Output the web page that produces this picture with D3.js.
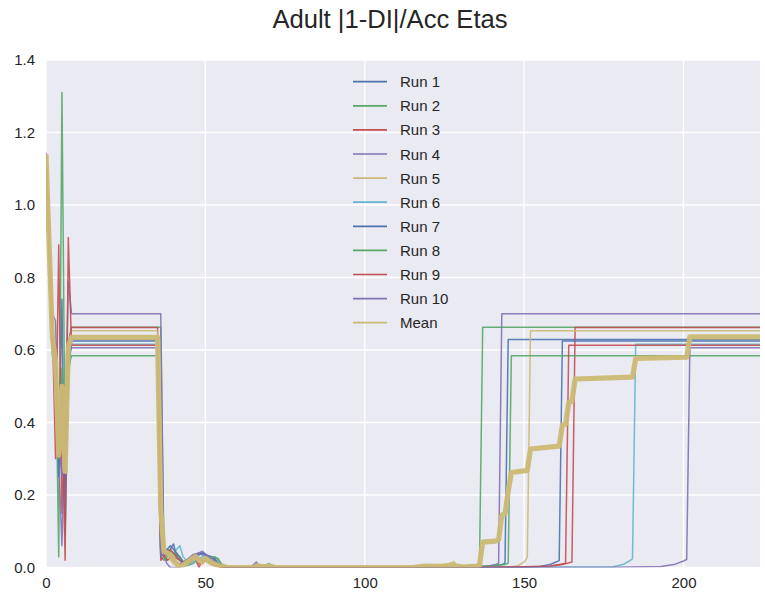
<!DOCTYPE html>
<html>
<head>
<meta charset="utf-8">
<script src="https://cdn.jsdelivr.net/npm/d3@7"></script>
<style>
    body { margin: 0; background: #fff; }
    text { font-family: "Liberation Sans", Arial, sans-serif; fill: #262626; }
</style>
</head>
<body>
<div id="chart"></div>
<script>
const title = "Adult |1-DI|/Acc Etas";
const seriesNames = ["Run 1", "Run 2", "Run 3", "Run 4", "Run 5", "Run 6", "Run 7", "Run 8", "Run 9", "Run 10", "Mean"];
const xTicks = [0, 50, 100, 150, 200];
const yTicks = [0, 0.2, 0.4, 0.6, 0.8, 1.0, 1.2, 1.4];

// vertices [iteration, value] of every run
const run1 = [[0, 1.14], [1, 0.89], [2, 0.629], [3, 0.62], [4, 0.28], [5, 0.74], [6, 0.09], [7, 0.52], [8, 0.629],
    [35, 0.629], [36, 0.05], [37, 0.04], [39, 0.05], [40, 0.065], [41, 0.03], [43, 0.01], [45, 0.02], [47, 0.035],
    [49, 0.04], [50, 0.035], [52, 0.03], [53, 0.02], [55, 0.005], [57, 0], [64, 0], [66, 0.008], [68, 0.005],
    [70, 0.01], [72, 0], [118, 0], [122, 0.004], [126, 0.002], [140, 0.004], [143, 0.008], [144, 0.012],
    [145, 0.629], [224, 0.629]];
const run2 = [[0, 1.14], [1, 0.9], [2, 0.663], [3, 0.6], [4, 0.03], [5, 1.31], [6, 0.3], [7, 0.6], [8, 0.663],
    [36, 0.663], [37, 0.03], [38, 0.02], [40, 0.04], [42, 0.03], [44, 0.005], [46, 0.01], [48, 0.025], [50, 0.02],
    [52, 0.03], [54, 0.025], [55, 0.01], [57, 0], [68, 0], [70, 0.008], [71, 0.003], [73, 0], [120, 0],
    [124, 0.005], [126, 0.002], [132, 0.002], [135, 0.005], [136, 0.01], [137, 0.663], [224, 0.663]];
const run3 = [[0, 1.14], [1, 0.89], [2, 0.662], [3, 0.3], [4, 0.89], [5, 0.15], [6, 0.4], [7, 0.62], [8, 0.662],
    [35, 0.662], [36, 0.04], [37, 0.05], [38, 0.02], [40, 0.03], [42, 0.02], [44, 0.01], [46, 0.03], [47, 0.02],
    [48, 0], [49, 0.02], [51, 0.015], [53, 0.005], [56, 0], [120, 0], [140, 0.002], [158, 0.003], [162, 0.008],
    [165, 0.015], [166, 0.662], [224, 0.662]];
const run4 = [[0, 1.145], [1, 0.92], [2, 0.7], [3, 0.68], [4, 0.3], [5, 0.06], [6, 0.4], [7, 0.79], [8, 0.7],
    [36, 0.7], [37, 0.03], [38, 0.01], [39, 0], [42, 0], [44, 0.02], [46, 0.035], [48, 0.04], [50, 0.03],
    [52, 0.02], [54, 0.01], [56, 0], [64, 0], [66, 0.015], [67, 0.005], [69, 0], [130, 0], [138, 0.003],
    [141, 0.008], [142, 0.012], [143, 0.7], [224, 0.7]];
const run5 = [[0, 1.14], [1, 0.89], [2, 0.653], [3, 0.6], [4, 0.3], [5, 0.5], [6, 0.27], [7, 0.6], [8, 0.653],
    [35, 0.653], [36, 0.06], [37, 0.05], [38, 0.03], [40, 0.01], [42, 0.005], [44, 0.015], [46, 0.03],
    [47, 0.035], [49, 0.02], [50, 0.03], [52, 0.015], [55, 0], [115, 0], [119, 0.006], [123, 0.004],
    [126, 0.01], [128, 0.016], [129, 0.005], [131, 0], [146, 0.002], [148, 0.005], [150, 0.015], [151, 0.028],
    [152, 0.653], [224, 0.653]];
const run6 = [[0, 1.14], [1, 0.88], [2, 0.616], [3, 0.58], [4, 0.25], [5, 0.45], [6, 0.3], [7, 0.58], [8, 0.616],
    [35, 0.616], [36, 0.04], [38, 0.05], [40, 0.04], [42, 0.06], [43, 0.03], [45, 0.01], [47, 0.02], [49, 0.03],
    [51, 0.02], [53, 0.01], [56, 0], [125, 0], [178, 0.002], [181, 0.008], [183, 0.018], [184, 0.024],
    [185, 0.616], [224, 0.616]];
const run7 = [[0, 1.14], [1, 0.88], [2, 0.625], [3, 0.55], [4, 0.25], [5, 0.52], [6, 0.2], [7, 0.56], [8, 0.625],
    [35, 0.625], [36, 0.03], [37, 0.04], [39, 0.06], [41, 0.04], [43, 0.015], [45, 0.01], [47, 0.03], [49, 0.04],
    [51, 0.03], [53, 0.025], [54, 0.01], [56, 0], [64, 0], [66, 0.01], [68, 0.003], [70, 0], [150, 0],
    [155, 0.003], [158, 0.008], [160, 0.015], [161, 0.019], [162, 0.625], [224, 0.625]];
const run8 = [[0, 1.14], [1, 0.87], [2, 0.584], [3, 0.58], [4, 0.3], [5, 0.55], [6, 0.28], [7, 0.55], [8, 0.584],
    [35, 0.584], [36, 0.03], [37, 0.02], [39, 0.045], [41, 0.03], [43, 0.01], [45, 0.015], [47, 0.025],
    [49, 0.02], [51, 0.025], [53, 0.03], [55, 0.01], [57, 0], [68, 0], [70, 0.01], [72, 0], [118, 0],
    [122, 0.005], [125, 0.003], [140, 0.004], [144, 0.008], [145, 0.012], [146, 0.584], [224, 0.584]];
const run9 = [[0, 1.14], [1, 0.88], [2, 0.613], [3, 0.55], [4, 0.35], [5, 0.45], [6, 0.02], [7, 0.91], [8, 0.613],
    [35, 0.613], [36, 0.02], [37, 0.03], [39, 0.05], [41, 0.03], [43, 0.01], [45, 0.02], [47, 0.03], [48, 0.01],
    [50, 0.02], [52, 0.01], [55, 0], [130, 0], [150, 0.002], [158, 0.004], [161, 0.008], [163, 0.012],
    [164, 0.613], [224, 0.613]];
const run10 = [[0, 1.14], [1, 0.88], [2, 0.606], [3, 0.6], [4, 0.35], [5, 0.25], [6, 0.3], [7, 0.58], [8, 0.606],
    [35, 0.606], [36, 0.03], [38, 0.04], [40, 0.02], [42, 0.01], [44, 0.02], [46, 0.03], [48, 0.04], [49, 0.045],
    [51, 0.03], [53, 0.02], [55, 0.005], [57, 0], [175, 0], [193, 0.003], [197, 0.008], [200, 0.018],
    [201, 0.022], [202, 0.606], [224, 0.606]];
const meanRun = [[0, 1.14], [1, 0.885], [2, 0.635], [3, 0.566], [4, 0.31], [5, 0.5], [6, 0.265], [7, 0.61],
    [8, 0.635], [35, 0.635], [36, 0.16], [37, 0.045], [38, 0.04], [39, 0.035], [41, 0.01], [42, 0], [44, 0.012],
    [46, 0.025], [47, 0.03], [48, 0.02], [49, 0.015], [50, 0.025], [52, 0.012], [55, 0.003], [57, 0], [65, 0],
    [66, 0.005], [68, 0.002], [70, 0.004], [72, 0], [115, 0], [119, 0.004], [123, 0.003], [128, 0.005],
    [131, 0.001], [135, 0.004], [136, 0.006], [137, 0.07], [141, 0.073], [142, 0.077], [143, 0.145],
    [144, 0.148], [145, 0.21], [146, 0.262], [151, 0.268], [152, 0.327], [161, 0.335], [162, 0.393],
    [163, 0.395], [164, 0.455], [165, 0.458], [166, 0.52], [184, 0.525], [185, 0.577], [201, 0.58],
    [202, 0.636], [224, 0.636]];

const series = [run1, run2, run3, run4, run5, run6, run7, run8, run9, run10, meanRun];
const palette = ["#4C72B0", "#55A868", "#C44E52", "#8172B2", "#CCB974", "#64B5CD"];

const width = 765;
const height = 599;
const margin = { top: 60, right: 5, bottom: 31.5, left: 46 };
const innerWidth = width - margin.left - margin.right;
const innerHeight = height - margin.top - margin.bottom;

const svg = d3.select("#chart")
    .append("svg")
    .attr("width", width)
    .attr("height", height);

svg.append("text")
    .attr("x", 390)
    .attr("y", 28)
    .attr("text-anchor", "middle")
    .attr("font-size", "25.6px")
    .text(title);

const graph = svg.append("g")
    .attr("transform", `translate(${margin.left},${margin.top})`);

const x = d3.scaleLinear().domain([0, 224]).range([0, innerWidth]);
const y = d3.scaleLinear().domain([0, 1.4]).range([innerHeight, 0]);

graph.append("rect")
    .attr("width", innerWidth)
    .attr("height", innerHeight)
    .attr("fill", "#EAEAF2");

// white grid
graph.append("g")
    .selectAll("line")
    .data(xTicks)
    .join("line")
    .attr("x1", d => x(d)).attr("x2", d => x(d))
    .attr("y1", 0).attr("y2", innerHeight)
    .attr("stroke", "#fff").attr("stroke-width", 1.3);
graph.append("g")
    .selectAll("line")
    .data(yTicks)
    .join("line")
    .attr("y1", d => y(d)).attr("y2", d => y(d))
    .attr("x1", 0).attr("x2", innerWidth)
    .attr("stroke", "#fff").attr("stroke-width", 1.3);

const xAxis = graph.append("g")
    .attr("transform", `translate(0,${innerHeight})`)
    .call(d3.axisBottom(x).tickValues(xTicks).tickSize(0).tickPadding(10));
const yAxis = graph.append("g")
    .call(d3.axisLeft(y).tickValues(yTicks).tickFormat(d3.format(".1f")).tickSize(0).tickPadding(11));
[xAxis, yAxis].forEach(ax => {
    ax.select(".domain").remove();
    ax.selectAll(".tick text")
        .attr("font-size", "15px")
        .attr("font-family", "Liberation Sans, Arial, sans-serif")
        .attr("fill", "#262626");
});

graph.append("clipPath")
    .attr("id", "plot-clip")
    .append("rect")
    .attr("width", innerWidth)
    .attr("height", innerHeight);

const line = d3.line()
    .x(d => x(d[0]))
    .y(d => y(d[1]));

graph.append("g")
    .attr("clip-path", "url(#plot-clip)")
    .selectAll("path")
    .data(series)
    .join("path")
    .attr("d", line)
    .attr("fill", "none")
    .attr("stroke", (_, i) => palette[i % palette.length])
    .attr("stroke-width", (_, i) => i === 10 ? 5.2 : 1.5)
    .attr("stroke-opacity", (_, i) => i === 10 ? 0.95 : 0.9)
    .attr("stroke-linejoin", "round");

// legend, no frame
const legend = svg.append("g")
    .selectAll("g")
    .data(seriesNames)
    .join("g")
    .attr("transform", (_, i) => `translate(353,${81.7 + i * 24.1})`);
legend.append("line")
    .attr("x1", 0).attr("x2", 34)
    .attr("stroke", (_, i) => palette[i % palette.length])
    .attr("stroke-width", 1.7);
legend.append("text")
    .attr("x", 47)
    .attr("y", 5.5)
    .attr("font-size", "15px")
    .text(d => d);
</script>
</body>
</html>
